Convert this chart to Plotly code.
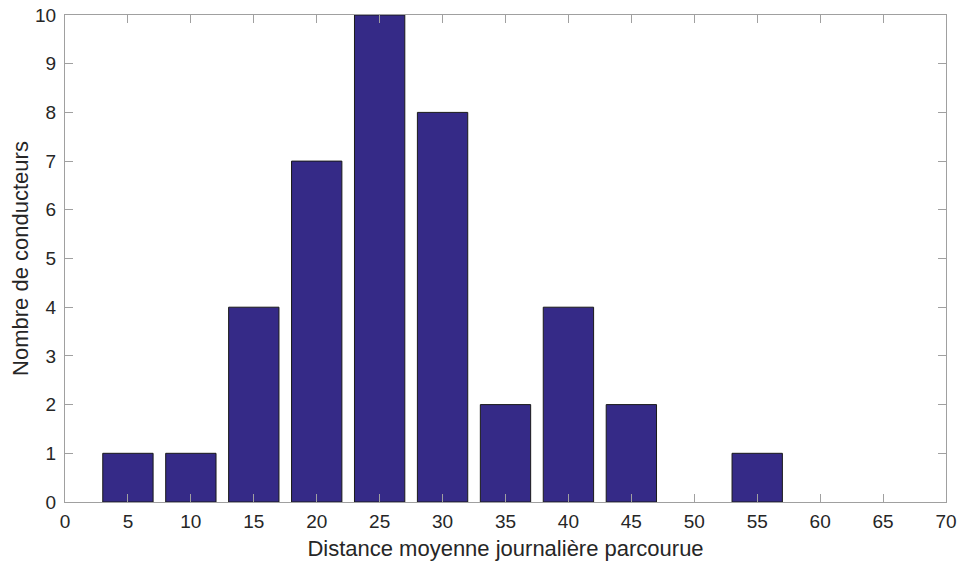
import plotly.graph_objects as go

distances = [5, 10, 15, 20, 25, 30, 35, 40, 45, 50, 55]
counts = [1, 1, 4, 7, 10, 8, 2, 4, 2, 0, 1]
x_ticks = list(range(0, 75, 5))
y_ticks = list(range(0, 11))

bar_x = [d for d, c in zip(distances, counts) if c > 0]
bar_y = [c for c in counts if c > 0]

FONT = "Liberation Sans, Arial"
fig = go.Figure()
fig.add_trace(go.Bar(
    x=bar_x, y=bar_y, width=4,
    marker=dict(color="#352a87", line=dict(color="#1a1a1a", width=1)),
))

axis_common = dict(
    showgrid=False, zeroline=False, showline=True, linecolor="#a0a0a0", linewidth=1.3,
    mirror="ticks", ticks="inside", ticklen=8, tickcolor="#a0a0a0", tickwidth=1,
    tickfont=dict(family=FONT, size=19, color="#262626"), automargin=False,
)
fig.update_layout(
    width=960, height=563,
    margin=dict(l=65, r=14, t=15, b=61),
    plot_bgcolor="white", paper_bgcolor="white",
    showlegend=False,
    xaxis=dict(range=[0, 70], tickvals=x_ticks, ticklabelstandoff=2, title=dict(
        text="Distance moyenne journalière parcourue", standoff=9,
        font=dict(family=FONT, size=22, color="#262626")), **axis_common),
    yaxis=dict(range=[0, 10], tickvals=y_ticks, ticklabelstandoff=4, title=dict(
        text="Nombre de conducteurs", standoff=0,
        font=dict(family=FONT, size=22, color="#262626")), **axis_common),
)
fig.write_html("out.html", config={"displayModeBar": False},
               post_script="document.body.style.margin='0';")
